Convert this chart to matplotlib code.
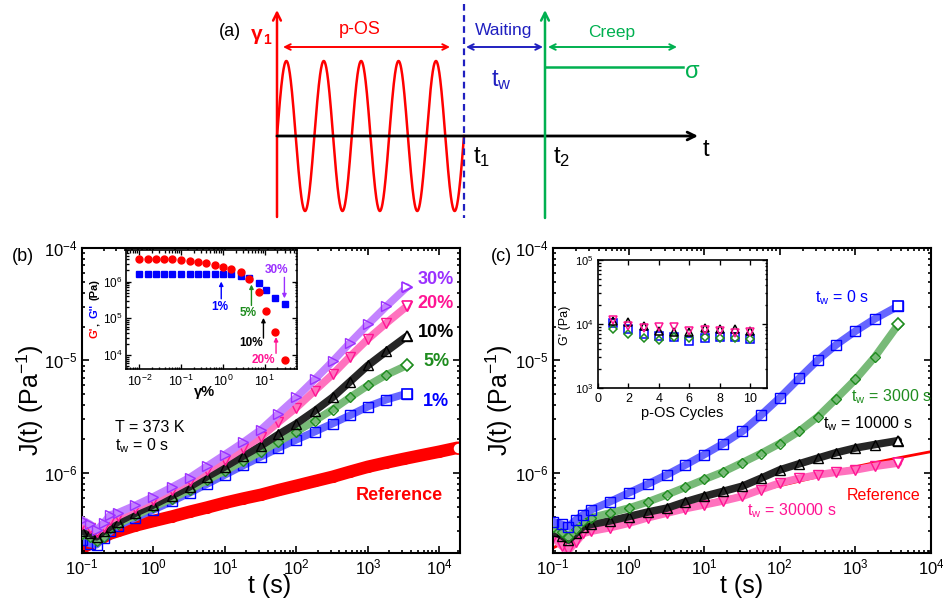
import numpy as np
import matplotlib
matplotlib.use("Agg")
import matplotlib.pyplot as plt
import matplotlib.colors as mcolors
from matplotlib.ticker import LogLocator, NullFormatter

plt.rcParams['font.family'] = ['Liberation Sans', 'DejaVu Sans']
plt.rcParams['mathtext.fontset'] = 'custom'
plt.rcParams['mathtext.rm'] = 'Liberation Sans'
plt.rcParams['mathtext.it'] = 'Liberation Sans:italic'
plt.rcParams['mathtext.bf'] = 'Liberation Sans:bold'

W, H = 943, 601

# colours
RED = '#ff0000'
BLUE = '#0000ff'
GREEN = '#1e8c1e'
BLACK = '#000000'
PINK = '#ff1493'
PURPLE = '#9b30ff'
GREEN_A = '#00b050'
BLUE_A = '#2020c0'

# ---------------- data ----------------
# (b) creep compliance after p-OS at different strain amplitudes (t_w = 0 s)
t_b = [0.1, 0.13, 0.16, 0.2, 0.25, 0.32, 0.56, 1.0, 1.8, 3.2, 5.6, 10, 18, 32, 56,
       100, 180, 320, 560, 1000, 1800, 3500]
J_30 = [3.80e-7, 3.47e-7, 3.09e-7, 3.55e-7, 4.22e-7, 4.40e-7, 5.13e-7, 6.11e-7, 7.41e-7,
        9.02e-7, 1.14e-6, 1.45e-6, 1.86e-6, 2.42e-6, 3.35e-6, 4.68e-6, 6.76e-6, 9.79e-6,
        1.43e-5, 2.09e-5, 3.02e-5, 4.49e-5]
J_20 = [3.51e-7, 3.24e-7, 2.99e-7, 3.31e-7, 3.80e-7, 4.13e-7, 4.90e-7, 5.75e-7, 7.00e-7,
        8.51e-7, 1.05e-6, 1.31e-6, 1.66e-6, 2.09e-6, 2.82e-6, 3.80e-6, 5.37e-6, 7.50e-6,
        1.08e-5, 1.55e-5, 2.14e-5, 3.03e-5]
J_10 = [3.02e-7, 2.88e-7, 2.69e-7, 3.02e-7, 3.31e-7, 3.65e-7, 4.37e-7, 5.18e-7, 6.24e-7,
        7.50e-7, 9.23e-7, 1.13e-6, 1.41e-6, 1.74e-6, 2.19e-6, 2.74e-6, 3.55e-6, 4.68e-6,
        6.46e-6, 9.02e-6, 1.20e-5, 1.64e-5]
J_5 = [2.82e-7, 2.69e-7, 2.45e-7, 2.69e-7, 3.24e-7, 3.51e-7, 4.17e-7, 4.97e-7, 5.89e-7,
       7.05e-7, 8.57e-7, 1.04e-6, 1.27e-6, 1.54e-6, 1.89e-6, 2.32e-6, 2.90e-6, 3.65e-6,
       4.68e-6, 5.98e-6, 7.41e-6, 9.02e-6]
J_1 = [2.51e-7, 2.34e-7, 2.29e-7, 2.63e-7, 3.02e-7, 3.37e-7, 3.98e-7, 4.68e-7, 5.56e-7,
       6.62e-7, 7.94e-7, 9.59e-7, 1.16e-6, 1.39e-6, 1.66e-6, 1.97e-6, 2.32e-6, 2.74e-6,
       3.24e-6, 3.88e-6, 4.47e-6, 5.07e-6]

# reference (no p-OS)
t_ref = [0.1, 0.13, 0.16, 0.2, 0.25, 0.32, 0.56, 1.0, 1.8, 3.2, 5.6, 10, 18, 32, 56,
         100, 180, 320, 560, 1000, 1800, 3200, 5600, 10000, 18000]
J_ref = [2.14e-7, 2.34e-7, 2.51e-7, 2.69e-7, 2.88e-7, 3.03e-7, 3.39e-7, 3.72e-7, 4.07e-7,
         4.49e-7, 4.90e-7, 5.40e-7, 5.89e-7, 6.37e-7, 7.00e-7, 7.66e-7, 8.41e-7, 9.20e-7,
         1.02e-6, 1.13e-6, 1.23e-6, 1.33e-6, 1.43e-6, 1.54e-6, 1.67e-6]

# (c) creep after p-OS at different waiting times
t_c = [0.1, 0.13, 0.16, 0.2, 0.25, 0.32, 0.56, 1.0, 1.8, 3.2, 5.6, 10, 18, 32, 56,
       100, 180, 320, 560, 1000, 1800, 3700]
J_tw0 = [3.67e-7, 3.47e-7, 3.31e-7, 3.80e-7, 4.22e-7, 4.68e-7, 5.50e-7, 6.61e-7, 7.94e-7,
         9.59e-7, 1.17e-6, 1.45e-6, 1.82e-6, 2.34e-6, 3.24e-6, 4.65e-6, 6.92e-6, 1.01e-5,
         1.38e-5, 1.82e-5, 2.34e-5, 3.05e-5]
J_tw3000 = [3.31e-7, 2.95e-7, 2.70e-7, 3.16e-7, 3.72e-7, 3.98e-7, 4.37e-7, 4.84e-7, 5.50e-7,
            6.37e-7, 7.41e-7, 8.71e-7, 1.02e-6, 1.23e-6, 1.48e-6, 1.82e-6, 2.34e-6, 3.16e-6,
            4.57e-6, 6.76e-6, 1.07e-5, 2.09e-5]
J_tw10000 = [3.02e-7, 2.75e-7, 2.51e-7, 2.88e-7, 3.31e-7, 3.47e-7, 3.72e-7, 4.07e-7, 4.47e-7,
             4.84e-7, 5.50e-7, 6.17e-7, 6.84e-7, 7.59e-7, 8.91e-7, 1.06e-6, 1.20e-6, 1.35e-6,
             1.51e-6, 1.66e-6, 1.78e-6, 1.93e-6]
J_tw30000 = [2.69e-7, 2.24e-7, 2.04e-7, 2.40e-7, 2.88e-7, 3.02e-7, 3.24e-7, 3.55e-7, 3.98e-7,
             4.37e-7, 4.79e-7, 5.18e-7, 5.62e-7, 6.17e-7, 7.08e-7, 8.09e-7, 8.91e-7, 9.59e-7,
             1.01e-6, 1.06e-6, 1.14e-6, 1.22e-6]

# inset (b): amplitude sweep
strain = [0.01, 0.016, 0.025, 0.039, 0.062, 0.10, 0.16, 0.25, 0.40, 0.63, 1.0, 1.6,
          2.7, 4.3, 7.1, 11, 18, 30]
G_store = [4.1e6, 4.1e6, 4.1e6, 4.1e6, 4.1e6, 3.9e6, 3.7e6, 3.47e6, 3.2e6, 2.9e6, 2.5e6,
           2.2e6, 1.8e6, 1.18e6, 5.1e5, 1.58e5, 4.3e4, 7.3e3]
G_loss = [1.61e6, 1.61e6, 1.61e6, 1.61e6, 1.61e6, 1.61e6, 1.61e6, 1.61e6, 1.61e6, 1.61e6,
          1.61e6, 1.61e6, 1.45e6, 1.23e6, 9.2e5, 6.0e5, 3.6e5, 2.5e5]

# inset (c): G' during p-OS cycles
cycles = [1, 2, 3, 4, 5, 6, 7, 8, 9, 10]
Gc_tw0 = [1.04e4, 8.35e3, 7.0e3, 6.4e3, 6.2e3, 5.5e3, 6.0e3, 6.2e3, 6.2e3, 5.8e3]
Gc_tw3000 = [8.35e3, 6.98e3, 5.97e3, 5.6e3, 6.2e3, 6.0e3, 6.2e3, 6.0e3, 6.0e3, 5.8e3]
Gc_tw10000 = [1.13e4, 1.06e4, 9.2e3, 7.9e3, 7.4e3, 7.4e3, 8.7e3, 8.5e3, 8.3e3, 7.9e3]
Gc_tw30000 = [1.17e4, 9.2e3, 8.7e3, 8.9e3, 8.9e3, 7.9e3, 8.2e3, 7.7e3, 7.2e3, 7.4e3]

# schematic (a), in pixel units
N_CYC = 5
X0, X1, X2, XEND = 277, 464, 545, 698
Y_AX, AMP = 136, 75


def px_box(l, t, r, b):
    return [l / W, 1 - b / H, (r - l) / W, (b - t) / H]


def ftext(x, y, s, ha='center', va='center', **kw):
    return fig.text(x / W, 1 - y / H, s, ha=ha, va=va, **kw)


def tint(c, f):
    r = np.array(mcolors.to_rgb(c))
    return tuple(r * f + (1 - f))


def band(ax, t, J, color, marker, ms=6.5, lw=5.5, f=0.6, z=2):
    ax.plot(t, J, '-', color=tint(color, f), lw=lw, solid_capstyle='round', zorder=z)
    ax.plot(t, J, ls='none', marker=marker, mfc='none', mec=color, ms=ms, mew=1.0, zorder=z)
    ax.plot(t[-1:], J[-1:], ls='none', marker=marker, mfc='white', mec=color, ms=ms + 1,
            mew=1.2, zorder=z)


def style(ax, size, lw=1.5, major=5, minor=2.5):
    for s in ax.spines.values():
        s.set_linewidth(lw)
    ax.tick_params(which='both', direction='in', top=True, right=True, width=lw * 0.8,
                   labelsize=size)
    ax.tick_params(which='major', length=major)
    ax.tick_params(which='minor', length=minor)


def logticks(axis):
    axis.set_major_locator(LogLocator(base=10, numticks=12))
    axis.set_minor_locator(LogLocator(base=10, subs=np.arange(2, 10), numticks=12))
    axis.set_minor_formatter(NullFormatter())


def vstack_label(x, y_mid, pieces, gaps, **kw):
    # rotated label built from coloured pieces, read bottom to top
    rend = fig.canvas.get_renderer()
    texts = [fig.text(x / W, 0, s, color=c, rotation=90, ha='center', va='bottom', **kw)
             for s, c in pieces]
    hs = [t.get_window_extent(rend).height for t in texts]
    y0 = (H - y_mid) - (sum(hs) + sum(gaps)) / 2
    for i, (t, h) in enumerate(zip(texts, hs)):
        t.set_position((x / W, y0 / H))
        y0 += h + (gaps[i] if i < len(gaps) else 0)


fig = plt.figure(figsize=(W / 100, H / 100), dpi=100)

# ---------------- (a) schematic ----------------
ax_a = fig.add_axes([0, 1 - 230 / H, 1, 230 / H])
ax_a.set_xlim(0, W)
ax_a.set_ylim(230, 0)
ax_a.axis('off')

xs = np.linspace(X0, X1, 600)
ax_a.plot(xs, Y_AX - AMP * np.sin(2 * np.pi * N_CYC * (xs - X0) / (X1 - X0)), color=RED, lw=1.8)


def arr(x1, y1, x2, y2, c, style='->', lw=1.6, ms=14):
    ax_a.annotate('', xy=(x2, y2), xytext=(x1, y1),
                  arrowprops=dict(arrowstyle=style, color=c, lw=lw, shrinkA=0, shrinkB=0,
                                  mutation_scale=ms))


arr(X0, 217, X0, 10, RED, lw=1.8)
arr(X0, Y_AX, XEND, Y_AX, BLACK, lw=2.0)
ax_a.plot([X1, X1], [4, 218], color=BLUE_A, lw=1.6, ls=(0, (3, 2)))
arr(X2, 218, X2, 10, GREEN_A, lw=1.8)
ax_a.plot([X2, 683], [67, 67], color=GREEN_A, lw=1.8)
arr(283, 47, 450, 47, RED, style='<->', lw=1.4, ms=10)
arr(466, 47, 543, 47, BLUE_A, style='<->', lw=1.4, ms=10)
arr(548, 47, 677, 47, GREEN_A, style='<->', lw=1.4, ms=10)

ax_a.text(230, 32, '(a)', fontsize=13, ha='center', va='center')
ax_a.text(257, 34, 'γ', fontsize=15, fontweight='bold', color=RED, ha='center', va='center')
ax_a.text(267, 40, '1', fontsize=10, fontweight='bold', color=RED, ha='center', va='center')
ax_a.text(360, 30, 'p-OS', fontsize=13, color=RED, ha='center', va='center')
ax_a.text(504, 30, 'Waiting', fontsize=12.5, color=BLUE_A, ha='center', va='center')
ax_a.text(612, 32, 'Creep', fontsize=12.5, color=GREEN_A, ha='center', va='center')
ax_a.text(501, 80, r'$\mathrm{t_w}$', fontsize=17, color=BLUE_A, ha='center', va='center')
ax_a.text(692, 72, 'σ', fontsize=17, color=GREEN_A, ha='center', va='center')
ax_a.text(482, 157, r'$\mathrm{t_1}$', fontsize=17, ha='center', va='center')
ax_a.text(562, 157, r'$\mathrm{t_2}$', fontsize=17, ha='center', va='center')
ax_a.text(706, 150, 't', fontsize=17, ha='center', va='center')

# ---------------- (b) ----------------
ax_b = fig.add_axes(px_box(82, 248, 460, 553))
band(ax_b, t_ref, J_ref, RED, 'o', ms=7, lw=9, f=1.0, z=1)
band(ax_b, t_b, J_1, BLUE, 's', z=2)
band(ax_b, t_b, J_5, GREEN, 'D', ms=5.5, z=3)
band(ax_b, t_b, J_10, BLACK, '^', z=4, f=0.85)
band(ax_b, t_b, J_20, PINK, 'v', z=5)
band(ax_b, t_b, J_30, PURPLE, '>', z=6)
ax_b.set_xscale('log')
ax_b.set_yscale('log')
ax_b.set_xlim(0.1, 1.94e4)
ax_b.set_ylim(1.93e-7, 1e-4)
logticks(ax_b.xaxis)
logticks(ax_b.yaxis)
style(ax_b, 12)

# ---------------- (c) ----------------
ax_c = fig.add_axes(px_box(553, 248, 931, 553))
ax_c.plot(t_ref, J_ref, color=RED, lw=2.0, zorder=1)
band(ax_c, t_c, J_tw30000, PINK, 'v', z=2)
band(ax_c, t_c, J_tw10000, BLACK, '^', z=3, f=0.85)
band(ax_c, t_c, J_tw3000, GREEN, 'D', ms=5.5, z=4)
band(ax_c, t_c, J_tw0, BLUE, 's', z=5)
ax_c.set_xscale('log')
ax_c.set_yscale('log')
ax_c.set_xlim(0.1, 1e4)
ax_c.set_ylim(1.93e-7, 1e-4)
logticks(ax_c.xaxis)
logticks(ax_c.yaxis)
style(ax_c, 12)

for xl, yl in [(270, 30), (742, 499)]:
    ftext(xl, 586, 't (s)', fontsize=18)
    ftext(yl, 400, r'J(t) (Pa$^{-1}$)', fontsize=18, rotation=90)
ftext(23, 256, '(b)', fontsize=13)
ftext(501, 256, '(c)', fontsize=13)

# labels (b)
for y, s, c in [(280, '30%', PURPLE), (303, '20%', PINK), (333, '10%', BLACK),
                (362, '5%', GREEN), (402, '1%', BLUE)]:
    ftext(436, y, s, fontsize=13, fontweight='bold', color=c)
ftext(399, 496, 'Reference', fontsize=13, fontweight='bold', color=RED)
ftext(115, 427, 'T = 373 K', fontsize=11.5, ha='left')
ftext(115, 446, r'$\mathrm{t_w}$ = 0 s', fontsize=11.5, ha='left')

# labels (c)
ftext(815, 298, r'$\mathrm{t_w}$ = 0 s', fontsize=11.5, ha='left', color=BLUE)
ftext(851, 397, r'$\mathrm{t_w}$ = 3000 s', fontsize=11.5, ha='left', color=GREEN)
ftext(823, 424, r'$\mathrm{t_w}$ = 10000 s', fontsize=11.5, ha='left', color=BLACK)
ftext(847, 496, 'Reference', fontsize=11.5, ha='left', color=RED)
ftext(747, 511, r'$\mathrm{t_w}$ = 30000 s', fontsize=11.5, ha='left', color=PINK)

# ---------------- inset (b) ----------------
in_b = fig.add_axes(px_box(126, 250, 297, 369))
in_b.plot(strain, G_store, 'o', color=RED, ms=5, zorder=3)
in_b.plot(strain, G_loss, 's', color=BLUE, ms=4.5, zorder=2)
in_b.set_xscale('log')
in_b.set_yscale('log')
in_b.set_xlim(4.8e-3, 59)
in_b.set_ylim(4.2e3, 7.2e6)
logticks(in_b.xaxis)
in_b.yaxis.set_major_locator(LogLocator(base=10, numticks=12))
in_b.yaxis.set_minor_locator(LogLocator(base=10, subs=np.arange(2, 10), numticks=12))
in_b.yaxis.set_minor_formatter(NullFormatter())
style(in_b, 9, lw=1.2, major=3.5, minor=1.8)
in_b.tick_params(axis='y', labelsize=8.5, pad=2.5)
in_b.set_yticks([1e4, 1e5, 1e6])

for txt, xy_t, x_a, y0, y1, c in [('1%', (0.85, 2.0e5), 0.91, 3.4e5, 1.0e6, BLUE),
                                  ('5%', (4.1, 1.36e5), 4.8, 2.24e5, 8.3e5, GREEN),
                                  ('10%', (4.8, 2.1e4), 9.3, 2.9e4, 1.03e5, BLACK),
                                  ('20%', (9.3, 7.2e3), 18.6, 1.12e4, 3.1e4, PINK),
                                  ('30%', (18.6, 2.0e6), 29.5, 1.3e6, 3.5e5, PURPLE)]:
    in_b.annotate('', xy=(x_a, y1), xytext=(x_a, y0),
                  arrowprops=dict(arrowstyle='-|>', color=c, lw=1.0, mutation_scale=6,
                                  shrinkA=0, shrinkB=0))
    in_b.text(xy_t[0], xy_t[1], txt, color=c, fontsize=8.5, fontweight='bold',
              ha='center', va='center')

ftext(204, 392, 'γ%', fontsize=10.5, fontweight='bold')
vstack_label(95, 309, [("G'", RED), (",", BLACK), ("G''", BLUE), ("(Pa)", BLACK)],
             gaps=[1.5, 4, 4], fontsize=8, fontweight='bold')

# ---------------- inset (c) ----------------
in_c = fig.add_axes(px_box(598, 260, 767, 388))
for G, c, m in [(Gc_tw0, BLUE, 's'), (Gc_tw3000, GREEN, 'D'), (Gc_tw10000, BLACK, '^'),
                (Gc_tw30000, PINK, 'v')]:
    in_c.plot(cycles, G, ls='none', marker=m, mfc='none', mec=c, ms=5.5 if m != 'D' else 4.5,
              mew=1.1)
in_c.set_yscale('log')
in_c.set_xlim(0, 11.1)
in_c.set_ylim(1e3, 1e5)
in_c.set_xticks([0, 2, 4, 6, 8, 10])
in_c.yaxis.set_minor_locator(LogLocator(base=10, subs=np.arange(2, 10), numticks=12))
in_c.yaxis.set_minor_formatter(NullFormatter())
style(in_c, 9, lw=1.2, major=3.5, minor=1.8)
in_c.tick_params(axis='y', labelsize=8)
ftext(682, 413, 'p-OS Cycles', fontsize=10.5)
ftext(565, 325, "G' (Pa)", fontsize=9, rotation=90)

fig.savefig('out.png', dpi=100)
